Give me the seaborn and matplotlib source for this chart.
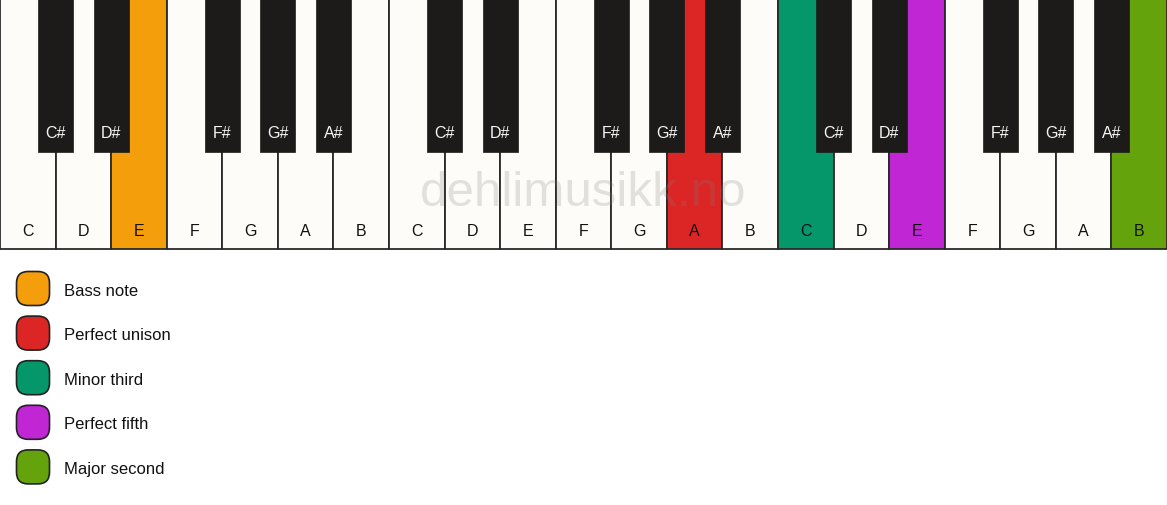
import matplotlib
matplotlib.use("Agg")
import matplotlib.pyplot as plt
import seaborn as sns
from matplotlib.patches import FancyBboxPatch

# white keys over three octaves
white_notes = ["C", "D", "E", "F", "G", "A", "B"] * 3
# black keys: name and the white key index they sit after
black_notes = ["C#", "D#", "F#", "G#", "A#"] * 3
black_after = [0, 1, 3, 4, 5, 7, 8, 10, 11, 12, 14, 15, 17, 18, 19]

# highlighted white keys and their meaning
hl_keys = [2, 12, 14, 16, 20]
hl_labels = ["Bass note", "Perfect unison", "Minor third", "Perfect fifth", "Major second"]
hl_colors = ["#F59E0B", "#DC2626", "#059669", "#C026D3", "#65A30D"]

sns.set_theme(style="white")
plt.rcParams['font.family'] = ['Liberation Sans', 'DejaVu Sans']

W, H = 1167, 506
fig = plt.figure(figsize=(W / 100, H / 100), dpi=100)
ax = fig.add_axes([0, 0, 1, 1])
ax.set_xlim(0, 21)
ax.set_ylim(H, 0)
ax.axis("off")

key_h = 250
black_h = 153
black_w = 0.63
edge = "#2a2a2a"

# white keys
colors = ["#FDFCF8"] * len(white_notes)
for k, c in zip(hl_keys, hl_colors):
    colors[k] = c
xs = list(range(len(white_notes)))
ax.bar(xs, [key_h] * len(xs), width=1, align="edge", bottom=0,
       color=colors, edgecolor=edge, linewidth=1.3, zorder=1)
for i, n in enumerate(white_notes):
    ax.text(i + 0.5, 231, n, ha="center", va="center", fontsize=11.5,
            color="#111111", zorder=4)

# black keys
bx = [a + 1 for a in black_after]
ax.bar(bx, [black_h] * len(bx), width=black_w, align="center", bottom=0,
       color="#1C1B19", edgecolor="#1C1B19", linewidth=0.5, zorder=2)
for x, n in zip(bx, black_notes):
    ax.text(x, 133, n, ha="center", va="center", fontsize=11.5,
            color="#F5F5F5", zorder=4)

# watermark
ax.text(10.5, 193, "dehlimusikk.no", ha="center", va="center", fontsize=35.5,
        color="#808080", alpha=0.22, zorder=5)

# legend
for i, (lab, c) in enumerate(zip(hl_labels, hl_colors)):
    yc = (289.5 + i * 44.6) / H
    box = FancyBboxPatch((16.5 / W, 1 - yc - 17 / H), 33 / W, 34 / H,
                         boxstyle="round,pad=0,rounding_size=0.01",
                         transform=fig.transFigure, facecolor=c,
                         edgecolor="#222222", linewidth=1.2,
                         mutation_aspect=W / H)
    fig.patches.append(box)
    fig.text(64 / W, 1 - yc - 1.5 / H, lab, ha="left", va="center", fontsize=12,
             color="#111111")

fig.savefig("out.png", dpi=100, facecolor="white")
